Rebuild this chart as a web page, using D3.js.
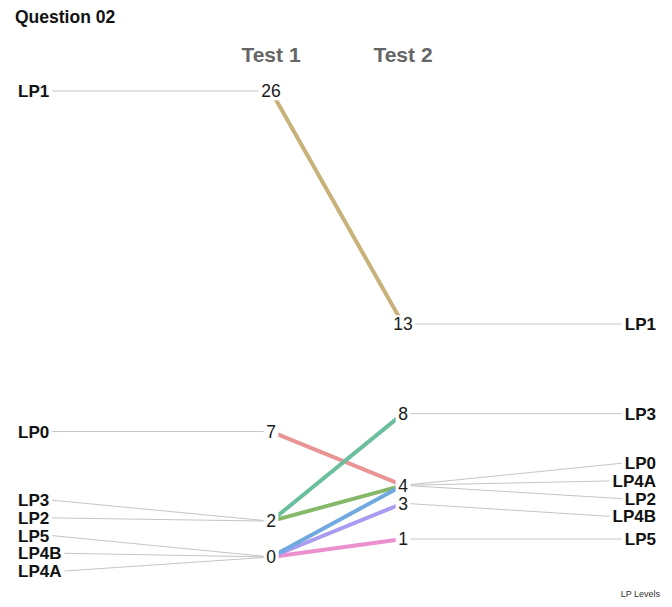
<!DOCTYPE html>
<html><head><meta charset="utf-8">
<script src="https://cdn.jsdelivr.net/npm/d3@7"></script>
<style>body{margin:0;background:#fff}svg{display:block}text{font-family:"Liberation Sans",Arial,sans-serif}</style>
</head><body><svg id="c" width="672" height="607"></svg>
<script>
const title = "Question 02";
const tests = ["Test 1", "Test 2"];
const categories = ["LP1", "LP0", "LP3", "LP2", "LP5", "LP4B", "LP4A"];
const test1 = [26, 7, 2, 2, 0, 0, 0];
const test2 = [13, 4, 8, 4, 1, 3, 4];
const colors = ["#c9b27a", "#e99494", "#6bbf9d", "#86b86a", "#ec8fcf", "#a99cf0", "#6fa9e0"];
const orderTest1 = ["LP1", "LP0", "LP3", "LP2", "LP5", "LP4B", "LP4A"];
const orderTest2 = ["LP1", "LP3", "LP0", "LP4A", "LP2", "LP4B", "LP5"];
const caption = "LP Levels";

const svg = d3.select("#c");
const x = d3.scalePoint().domain(tests).range([271, 403]);
const y = d3.scaleLinear().domain([0, 26]).range([557, 91]);
const data = categories.map((c, i) => ({cat: c, v1: test1[i], v2: test2[i], color: colors[i]}));

function dodge(vals, order, spacing, lo, hi) {
  const items = vals.map(d => ({cat: d.cat, ideal: y(d.v), rank: order.indexOf(d.cat)}))
    .sort((a, b) => a.ideal - b.ideal || a.rank - b.rank);
  const clusters = [];
  for (const it of items) {
    clusters.push({items: [it]});
    place(clusters[clusters.length - 1]);
    while (clusters.length > 1) {
      const a = clusters[clusters.length - 2], b = clusters[clusters.length - 1];
      if (b.start < a.start + (a.items.length - 1) * spacing + spacing - 0.01) {
        a.items = a.items.concat(b.items); clusters.pop(); place(a);
      } else break;
    }
  }
  function place(cl) {
    const n = cl.items.length;
    const mean = d3.mean(cl.items, d => d.ideal);
    let s = mean - (n - 1) * spacing / 2;
    if (s + (n - 1) * spacing > hi) s = hi - (n - 1) * spacing;
    if (s < lo) s = lo;
    cl.start = s;
  }
  const out = {};
  clusters.forEach(cl => cl.items.forEach((it, i) => out[it.cat] = cl.start + i * spacing));
  return out;
}

const pos1 = dodge(data.map(d => ({cat: d.cat, v: d.v1})), orderTest1, 17.7, 80, 571);
const pos2 = dodge(data.map(d => ({cat: d.cat, v: d.v2})), orderTest2, 17.7, 80, 571);

// title & headers
svg.append("text").attr("x", 15).attr("y", 23).attr("font-size", 17.5).attr("font-weight", "bold").attr("fill", "#111").text(title);
svg.selectAll("text.hdr").data(tests).join("text").attr("class", "hdr")
  .attr("x", d => x(d)).attr("y", 62).attr("text-anchor", "middle")
  .attr("font-size", 21).attr("font-weight", "bold").attr("fill", "#666").text(d => d);

const gSeg = svg.append("g"), gLines = svg.append("g"), gBox = svg.append("g"), gNum = svg.append("g"), gLab = svg.append("g");

// labels
const leftLabs = gLab.selectAll("text.l").data(data).join("text").attr("class", "l")
  .attr("x", 18).attr("y", d => pos1[d.cat]).attr("dy", "0.36em")
  .attr("font-size", 17).attr("font-weight", "bold").attr("fill", "#111").text(d => d.cat);
const rightLabs = gLab.selectAll("text.r").data(data).join("text").attr("class", "r")
  .attr("x", 656).attr("y", d => pos2[d.cat]).attr("dy", "0.36em").attr("text-anchor", "end")
  .attr("font-size", 17).attr("font-weight", "bold").attr("fill", "#111").text(d => d.cat);

leftLabs.each(function(d) {
  const b = this.getBBox();
  gSeg.append("line").attr("x1", b.x + b.width + 3).attr("y1", pos1[d.cat])
    .attr("x2", x(tests[0])).attr("y2", y(d.v1)).attr("stroke", "#bdbdbd").attr("stroke-width", 0.9);
});
rightLabs.each(function(d) {
  const b = this.getBBox();
  gSeg.append("line").attr("x1", x(tests[1])).attr("y1", y(d.v2))
    .attr("x2", b.x - 3).attr("y2", pos2[d.cat]).attr("stroke", "#bdbdbd").attr("stroke-width", 0.9);
});

// slope lines
gLines.selectAll("line").data(data).join("line")
  .attr("x1", x(tests[0])).attr("y1", d => y(d.v1))
  .attr("x2", x(tests[1])).attr("y2", d => y(d.v2))
  .attr("stroke", d => d.color).attr("stroke-width", 4).attr("stroke-linecap", "round");

// numbers (unique per column)
const nums = [];
[[test1, tests[0]], [test2, tests[1]]].forEach(([vals, t]) => {
  Array.from(new Set(vals)).forEach(v => nums.push({t, v}));
});
gNum.selectAll("text").data(nums).join("text")
  .attr("x", d => x(d.t)).attr("y", d => y(d.v)).attr("dy", "0.36em").attr("text-anchor", "middle")
  .attr("font-size", 17.5).attr("fill", "#1a1a1a").text(d => d.v)
  .each(function() {
    const b = this.getBBox();
    gBox.append("rect").attr("x", b.x - 2.5).attr("y", b.y + 1).attr("width", b.width + 5).attr("height", b.height - 2).attr("fill", "#fff");
  });

svg.append("text").attr("x", 660).attr("y", 597).attr("text-anchor", "end").attr("font-size", 9).attr("fill", "#333").text(caption);
</script></body></html>
